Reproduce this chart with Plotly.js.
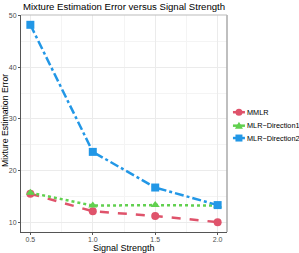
<!DOCTYPE html>
<html><head><meta charset="utf-8">
<script src="https://cdn.plot.ly/plotly-3.0.1.min.js"></script>
<style>html,body{margin:0;padding:0;background:#fff}#c{width:299px;height:253px}</style>
</head><body><div id="c"></div>
<script>
const signal = [0.5, 1.0, 1.5, 2.0];
const mmlr = [15.5, 12.1, 11.2, 10.0];
const dir1 = [15.7, 13.2, 13.3, 13.2];
const dir2 = [48.2, 23.6, 16.7, 13.3];
const seriesNames = ['MMLR', 'MLR\u2212Direction1', 'MLR\u2212Direction2'];
const xTicks = [0.5, 1.0, 1.5, 2.0];
const xTickText = ['0.5', '1.0', '1.5', '2.0'];
const yTicks = [10, 20, 30, 40, 50];

const colors = ['#DF536B', '#61D04F', '#2297E6'];
const dashes = ['dash', 'dot', 'dashdot'];
const symbols = ['circle', 'triangle-up', 'square'];
const ys = [mmlr, dir1, dir2];

const traces = ys.map((y, i) => ({
  x: signal, y: y, name: seriesNames[i], type: 'scatter', mode: 'lines+markers',
  line: {color: colors[i], dash: dashes[i], width: 2.5},
  marker: {color: colors[i], symbol: symbols[i], size: 8},
  showlegend: false
}));

// manual legend (keys + labels), positioned in paper units
const W = 206, H = 217;            // plot area in px
const px = v => v / W, py = v => v / H;
const legY = [0.552, 0.49, 0.433];
const keyX = 1.058, textX = 1.087;
const shapes = [
  {type: 'line', xref: 'paper', yref: 'paper', x0: 1, x1: 1, y0: 0, y1: 1, line: {color: '#aaa', width: 1.5}},
  {type: 'line', xref: 'paper', yref: 'paper', x0: 0, x1: 1, y0: 1, y1: 1, line: {color: '#bbb', width: 1}}
];
const annotations = [
  {text: 'Mixture Estimation Error versus Signal Strength', xref: 'paper', yref: 'paper', x: 0.5, y: 1.037,
   xanchor: 'center', yanchor: 'middle', showarrow: false, font: {size: 9.6, color: '#000'}},
  {text: 'Signal Strength', xref: 'paper', yref: 'paper', x: 0.5, y: -0.074,
   xanchor: 'center', yanchor: 'middle', showarrow: false, font: {size: 9, color: '#000'}},
  {text: 'Mixture Estimation Error', xref: 'paper', yref: 'paper', x: -0.078, y: 0.516, textangle: -90,
   xanchor: 'center', yanchor: 'middle', showarrow: false, font: {size: 8.7, color: '#000'}}
];
seriesNames.forEach((n, i) => {
  const cx = keyX, cy = legY[i];
  shapes.push({type: 'line', xref: 'paper', yref: 'paper', x0: cx - px(6), x1: cx + px(6), y0: cy, y1: cy,
    line: {color: colors[i], width: 2.5}});
  if (i === 0) {
    shapes.push({type: 'circle', xref: 'paper', yref: 'paper', x0: cx - px(3.5), x1: cx + px(3.5),
      y0: cy - py(3.5), y1: cy + py(3.5), fillcolor: colors[i], line: {width: 0}});
  } else if (i === 1) {
    shapes.push({type: 'path', xref: 'paper', yref: 'paper',
      path: `M${cx - px(4)},${cy - py(3)} L${cx + px(4)},${cy - py(3)} L${cx},${cy + py(4)} Z`,
      fillcolor: colors[i], line: {width: 0}});
  } else {
    shapes.push({type: 'rect', xref: 'paper', yref: 'paper', x0: cx - px(3.5), x1: cx + px(3.5),
      y0: cy - py(3.5), y1: cy + py(3.5), fillcolor: colors[i], line: {width: 0}});
  }
  annotations.push({text: n, xref: 'paper', yref: 'paper', x: textX, y: legY[i], xanchor: 'left', yanchor: 'middle',
    showarrow: false, font: {size: 7.3, color: '#000'}});
});

const layout = {
  width: 299, height: 253,
  margin: {l: 21, r: 72, t: 15, b: 21, autoexpand: false},
  paper_bgcolor: '#fff', plot_bgcolor: '#fff',
  font: {family: 'Liberation Sans, Arial, sans-serif', color: '#000'},
  xaxis: {range: [0.425, 2.075], tickvals: xTicks, ticktext: xTickText,
          showgrid: true, gridcolor: '#ebebeb', gridwidth: 1,
          minor: {showgrid: true, gridcolor: '#f4f4f4', dtick: 0.25, tick0: 0.25},
          zeroline: false, showline: true, linecolor: '#555', linewidth: 1,
          ticks: 'outside', ticklen: 2, tickcolor: '#555', ticklabelstandoff: -1,
          tickfont: {size: 7, color: '#4d4d4d'}, automargin: false},
  yaxis: {range: [8.09, 50.1], tickvals: yTicks,
          showgrid: true, gridcolor: '#ebebeb', gridwidth: 1,
          minor: {showgrid: true, gridcolor: '#f4f4f4', dtick: 10, tick0: 5},
          zeroline: false, showline: true, linecolor: '#555', linewidth: 1,
          ticks: 'outside', ticklen: 2, tickcolor: '#555',
          tickfont: {size: 7, color: '#4d4d4d'}, automargin: false},
  shapes: shapes,
  annotations: annotations,
  showlegend: false
};

Plotly.newPlot('c', traces, layout, {displayModeBar: false, staticPlot: true});
</script></body></html>
